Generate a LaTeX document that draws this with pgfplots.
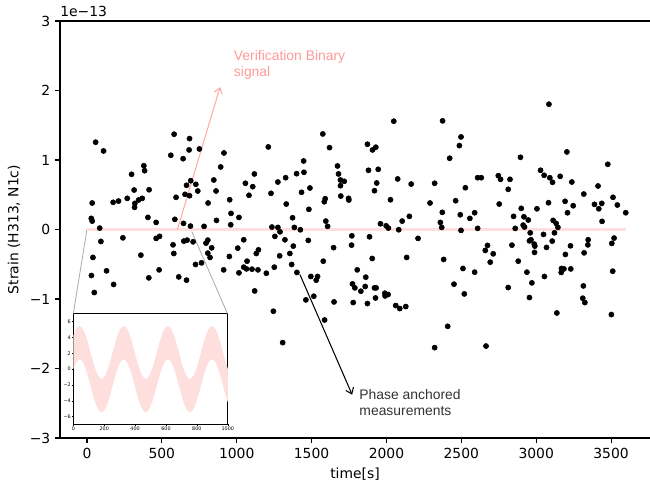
\documentclass[border=0pt]{standalone}
\usepackage{pgfplots}
\pgfplotsset{compat=1.18}
\usepackage{pgfplotstable}
\usepgfplotslibrary{fillbetween}
\usetikzlibrary{arrows.meta}
\usepackage{fontspec}
\setmainfont{DejaVu Sans}
\newfontfamily\annfont{Liberation Sans}
\definecolor{vbpink}{RGB}{255,222,222}
\definecolor{vbtext}{RGB}{255,153,153}
\definecolor{vbarrow}{RGB}{255,170,170}
\definecolor{phgray}{RGB}{51,51,51}

\pgfplotstableread{
t v
58 1.256
111 1.130
582 1.371
685 1.308
751 1.159
682 1.145
560 1.068
642 1.019
380 0.918
385 0.846
298 0.794
693 0.702
727 0.650
665 0.636
315 0.568
415 0.572
685 0.486
655 0.506
595 0.463
269 0.448
211 0.409
175 0.391
345 0.424
369 0.448
320 0.376
318 0.319
35 0.381
29 0.160
35 0.121
85 0.020
407 0.174
462 0.102
587 0.146
645 0.088
691 0.049
93 -0.172
240 -0.120
462 -0.128
485 -0.099
575 -0.221
647 -0.167
669 -0.153
709 -0.177
40 -0.402
360 -0.369
580 -0.345
131 -0.595
30 -0.662
482 -0.581
725 -0.503
178 -0.791
413 -0.696
613 -0.682
665 -0.729
49 -0.907
765 -0.480
1575 1.375
1620 1.178
1211 1.188
915 1.101
893 0.900
1447 0.986
1449 0.823
1400 0.803
1118 0.799
1327 0.745
847 0.712
1058 0.665
1275 0.683
1107 0.616
1489 0.597
862 0.554
740 0.554
1082 0.492
1229 0.520
1433 0.535
1585 0.399
1591 0.443
953 0.428
809 0.381
1331 0.366
1482 0.290
962 0.232
1015 0.174
865 0.131
960 0.068
1373 0.169
782 0.045
1235 0.035
1275 0.030
1289 -0.033
1385 0.030
1425 -0.004
1595 0.121
1607 0.045
1255 -0.099
1322 -0.148
1478 -0.157
1047 -0.148
807 -0.153
795 -0.196
833 -0.264
1007 -0.268
807 -0.340
822 -0.402
1145 -0.293
1131 -0.345
1378 -0.239
1355 -0.345
1647 -0.261
951 -0.388
1287 -0.379
1578 -0.456
1069 -0.456
1047 -0.542
1065 -0.567
1102 -0.571
1142 -0.581
913 -0.581
1015 -0.624
1198 -0.629
1251 -0.542
1367 -0.503
1402 -0.618
1495 -0.676
1540 -0.676
1531 -0.729
1120 -0.884
1462 -1.013
1515 -0.960
1650 -1.042
1245 -1.176
1587 -1.302
1307 -1.628
2049 1.558
2375 1.563
2498 1.332
2487 1.207
2422 1.025
1873 1.227
1929 1.184
1907 1.145
1673 0.914
1680 0.799
1693 0.712
1718 0.693
1693 0.630
1880 0.852
1945 0.866
1935 0.669
1920 0.558
2075 0.727
2165 0.654
2322 0.665
2527 0.601
1695 0.481
1747 0.448
1749 0.424
2027 0.428
2291 0.381
2462 0.414
2373 0.247
2493 0.212
2557 0.160
2153 0.189
2105 0.121
1960 0.082
1998 0.053
2013 0.020
2082 -0.004
2360 0.102
2369 0.030
2498 -0.013
1769 -0.091
1767 -0.225
1887 -0.105
2211 -0.128
1905 -0.417
2135 -0.402
2382 -0.431
2511 -0.561
1805 -0.581
1862 -0.686
1773 -0.783
1789 -0.840
1858 -0.820
1829 -0.888
1920 -0.840
1931 -0.840
1927 -0.985
1989 -0.917
1991 -0.956
2011 -0.936
2451 -0.787
2520 -0.927
1778 -1.051
1873 -1.065
2062 -1.094
2089 -1.137
2129 -1.109
2409 -1.393
2322 -1.700
3085 1.803
3205 1.116
2895 1.039
3478 0.938
2609 0.745
2633 0.745
2747 0.774
2762 0.722
2825 0.722
2813 0.578
3029 0.852
3053 0.780
3091 0.745
3109 0.679
3160 0.765
3238 0.683
3413 0.626
3318 0.510
3513 0.463
3542 0.352
3598 0.241
3389 0.362
3438 0.376
3418 0.298
3440 0.117
3082 0.385
3193 0.405
3247 0.342
3209 0.241
2753 0.366
2900 0.304
3005 0.298
2589 0.241
2849 0.189
2918 0.183
2947 0.136
2913 0.063
2922 0.035
2609 0.016
2860 0.016
3113 0.131
3133 0.088
3145 0.030
2960 -0.048
3049 -0.071
3122 -0.048
2955 -0.163
2965 -0.148
3107 -0.167
2987 -0.210
2991 -0.239
3069 -0.258
2838 -0.225
2675 -0.229
2660 -0.301
2713 -0.350
2989 -0.330
2693 -0.470
2880 -0.456
3229 -0.235
3347 -0.148
3345 -0.221
3520 -0.124
3505 -0.200
3195 -0.359
3320 -0.336
3169 -0.561
3185 -0.567
3167 -0.618
3231 -0.567
2938 -0.614
3055 -0.676
2971 -0.768
2589 -0.614
3511 -0.600
2813 -0.835
3315 -0.812
3311 -0.989
3325 -1.051
2955 -0.979
3138 -1.201
3502 -1.224
2665 -1.677
}\meas

\pgfplotstableread{
t u l
-7.7 3.78 -0.43
16.2 5.00 0.80
40 5.45 1.25
63.8 5.00 0.80
87.7 3.78 -0.43
111.5 2.10 -2.10
135.3 0.43 -3.78
159.2 -0.80 -5.00
183 -1.25 -5.45
206.8 -0.80 -5.00
230.7 0.43 -3.78
254.5 2.10 -2.10
278.3 3.78 -0.43
302.2 5.00 0.80
326 5.45 1.25
349.8 5.00 0.80
373.7 3.78 -0.43
397.5 2.10 -2.10
421.3 0.43 -3.78
445.2 -0.80 -5.00
469 -1.25 -5.45
492.8 -0.80 -5.00
516.7 0.43 -3.78
540.5 2.10 -2.10
564.3 3.78 -0.43
588.2 5.00 0.80
612 5.45 1.25
635.8 5.00 0.80
659.7 3.78 -0.43
683.5 2.10 -2.10
707.3 0.43 -3.78
731.2 -0.80 -5.00
755 -1.25 -5.45
778.8 -0.80 -5.00
802.7 0.43 -3.78
826.5 2.10 -2.10
850.3 3.78 -0.43
874.2 5.00 0.80
898 5.45 1.25
921.8 5.00 0.80
945.7 3.78 -0.43
969.5 2.10 -2.10
993.3 0.43 -3.78
1017.2 -0.80 -5.00
}\band

\begin{document}
\begin{tikzpicture}
\begin{axis}[name=main, scale only axis, width=424.8pt, height=300.24pt,
  xmin=-180, xmax=3760, ymin=-3, ymax=3,
  axis x line*=bottom, axis y line*=left,
  axis line style={line width=0.8pt, black},
  tick align=outside, major tick length=3.5pt,
  tick style={line width=0.8pt, black},
  xtick={0,500,...,3500}, xticklabels={0,500,1000,1500,2000,2500,3000,3500},
  ytick={-3,-2,-1,0,1,2,3}, yticklabels={−3,−2,−1,0,1,2,3},
  tick label style={font=\fontsize{10}{12}\selectfont},
  xlabel={time[s]}, ylabel={Strain (H313, N1c)},
  label style={font=\fontsize{10}{12}\selectfont},
  clip=false]
  \draw[line width=0.8pt, black] (rel axis cs:0,1) -- (rel axis cs:1,1);
  \node[anchor=base west, inner sep=0, yshift=3.3pt, font=\fontsize{10}{12}\selectfont] at (rel axis cs:0,1) {1e−13};
  \draw[gray!65, line width=0.6pt] (axis cs:0,0) -- (axis cs:-91,-1.209);
  \draw[gray!65, line width=0.6pt] (axis cs:700,-0.03) -- (axis cs:938,-1.209);
  \addplot[vbpink, line width=2.2pt] coordinates {(0,0) (3600,0)};
  \addplot[only marks, mark=*, mark size=1.85pt, black] table[x=t,y=v]{\meas};
  \draw[vbarrow, line width=0.75pt, -{Straight Barb[length=4pt,width=6pt]}] (axis cs:604,0) -- (axis cs:889,2.049);
  \node[anchor=north west, inner sep=0, align=left, text=vbtext, font=\annfont\fontsize{10}{11.5}\selectfont] at (axis cs:980,2.586) {Verification Binary\\signal};
  \draw[black, line width=0.75pt, -{Straight Barb[length=4pt,width=6pt]}] (axis cs:1422,-0.647) -- (axis cs:1771,-2.377);
  \node[anchor=north west, inner sep=0, align=left, text=phgray, font=\annfont\fontsize{10}{11.5}\selectfont] at (axis cs:1818,-2.301) {Phase anchored\\measurements};
  \coordinate (insetSW) at (axis cs:-91,-2.805);
\end{axis}
\begin{axis}[at={(insetSW)}, anchor=south west, scale only axis,
  width=111.2pt, height=79.7pt,
  xmin=0, xmax=1000, ymin=-7, ymax=7,
  axis background/.style={fill=white},
  axis line style={line width=0.6pt, black},
  tick align=outside, major tick length=1pt,
  tick style={line width=0.3pt, black},
  xtick pos=left, ytick pos=left,
  xtick={0,200,400,600,800,1000}, xticklabels={0,200,400,600,800,1000},
  ytick={-6,-4,-2,0,2,4,6}, yticklabels={−6,−4,−2,0,2,4,6},
  tick label style={font=\fontsize{3.5}{4}\selectfont, inner sep=0.6pt}]
  \addplot[draw=none, smooth, name path=up] table[x=t,y=u]{\band};
  \addplot[draw=none, smooth, name path=lo] table[x=t,y=l]{\band};
  \addplot[vbpink] fill between[of=up and lo];
  \node[anchor=base west, inner sep=0, yshift=1pt, font=\fontsize{3.5}{4}\selectfont] at (rel axis cs:0,1) {1e−24};
\end{axis}
\pgfresetboundingbox
\path[use as bounding box] ([shift={(-43.2pt,-31.68pt)}]main.south west) rectangle ([shift={(0pt,15.12pt)}]main.north east);
\end{tikzpicture}
\end{document}
